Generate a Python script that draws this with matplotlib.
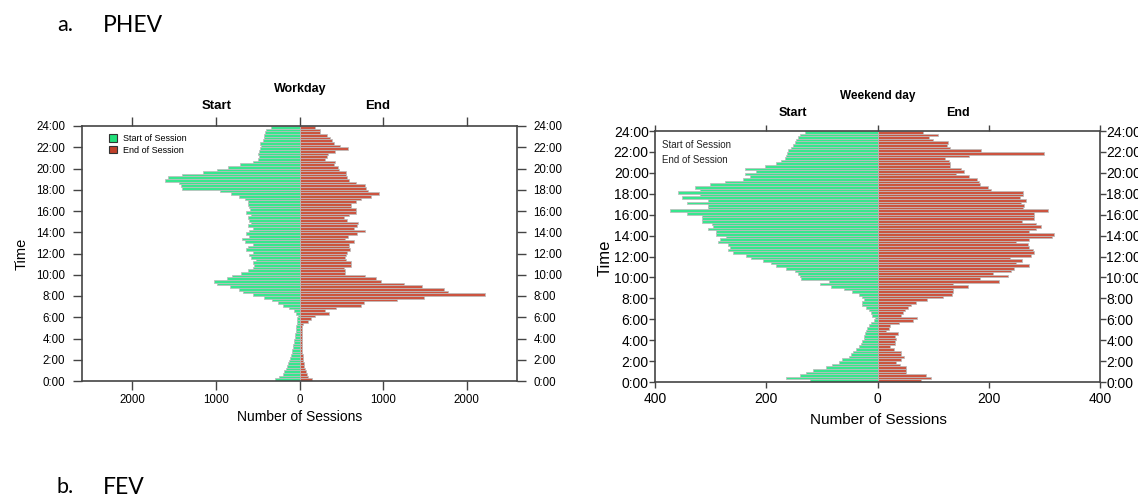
import numpy as np
import matplotlib
matplotlib.use("Agg")
import matplotlib.pyplot as plt
from matplotlib.patches import Patch

# 15-minute bins, 0:00 -> 23:45 (bottom to top)
workday_start = [290, 240, 200, 180, 165, 150, 140, 130, 115, 105, 95, 90,
                 80, 75, 70, 60, 55, 50, 45, 45, 40, 35, 30, 25,
                 20, 40, 70, 120, 200, 260, 330, 420, 560, 680, 720, 830,
                 990, 1020, 870, 810, 700, 620, 560, 540, 560, 520, 580, 600,
                 560, 640, 620, 560, 650, 690, 600, 640, 600, 560, 620, 580,
                 600, 620, 580, 640, 590, 600, 610, 620, 650, 720, 820, 950,
                 1400, 1420, 1440, 1610, 1570, 1400, 1150, 990, 850, 710, 550, 500,
                 490, 500, 480, 470, 460, 470, 440, 430, 430, 415, 395, 340]
workday_end = [150, 105, 90, 75, 65, 58, 50, 45, 40, 38, 35, 32,
               30, 28, 26, 30, 28, 25, 30, 26, 25, 40, 104, 143,
               183, 350, 300, 440, 730, 770, 1170, 1490, 2220, 1770, 1730, 1470,
               1250, 980, 910, 780, 540, 540, 530, 610, 610, 550, 540, 560,
               570, 600, 590, 590, 650, 540, 580, 690, 780, 650, 690, 700,
               570, 530, 590, 670, 677, 620, 610, 670, 730, 860, 948, 820,
               790, 780, 677, 590, 570, 550, 550, 470, 462, 418, 422, 310,
               330, 343, 430, 578, 490, 410, 390, 360, 330, 250, 240, 183]
weekend_start = [122, 164, 140, 128, 116, 93, 82, 69, 63, 51, 48, 44,
                 39, 33, 30, 27, 24, 24, 22, 21, 18, 15, 12, 6,
                 4, 9, 12, 15, 21, 27, 28, 24, 28, 33, 45, 60,
                 84, 104, 87, 137, 140, 143, 149, 164, 182, 191, 206, 227,
                 236, 260, 269, 266, 269, 287, 284, 272, 290, 290, 304, 296,
                 298, 316, 316, 316, 343, 373, 304, 304, 343, 304, 352, 319,
                 358, 319, 328, 301, 275, 242, 230, 239, 218, 239, 203, 183,
                 173, 167, 165, 163, 161, 155, 152, 149, 146, 143, 140, 131]
weekend_end = [79, 97, 88, 52, 52, 51, 40, 34, 43, 47, 43, 43,
               29, 22, 31, 31, 33, 31, 37, 16, 21, 22, 39, 64,
               71, 43, 46, 49, 55, 61, 70, 89, 118, 134, 136, 136,
               162, 136, 219, 184, 234, 207, 240, 246, 272, 249, 260, 238,
               276, 282, 279, 273, 270, 249, 272, 313, 318, 273, 285, 294,
               285, 260, 281, 281, 281, 306, 262, 264, 258, 267, 256, 262,
               261, 204, 198, 184, 183, 179, 164, 141, 156, 150, 131, 131,
               128, 121, 164, 300, 186, 131, 125, 127, 99, 93, 109, 82]

hours = np.arange(96) * 0.25
hour_ticks = np.arange(0, 25, 2)
hour_labels = [f"{h}:00" for h in hour_ticks]

W, H = 1138, 497
green = "#38e68e"
red = "#cc5440"
edge = "#bdbdbd"
axis_col = "#444444"
fig = plt.figure(figsize=(W / 100, H / 100), dpi=100)
plt.rcParams['font.family'] = ['Liberation Sans', 'DejaVu Sans']


def fx(x):
    return x / W


def fy(y):
    return 1 - y / H


def panel(rect, start, end, lim, xticks, fs, tlen, ypad):
    ax = fig.add_axes(rect)
    ax.barh(hours, -np.array(start), height=0.25, align='edge',
            color=green, edgecolor=edge, linewidth=0.55)
    ax.barh(hours, end, height=0.25, align='edge',
            color=red, edgecolor=edge, linewidth=0.55)
    ax.set_xlim(-lim, lim)
    ax.set_ylim(0, 24)
    ax.set_yticks(hour_ticks)
    ax.set_yticklabels(hour_labels)
    ax.set_xticks(xticks)
    ax.set_xticklabels([str(abs(v)) for v in xticks])
    ax.tick_params(axis='both', direction='out', length=tlen, width=1,
                   color=axis_col, labelsize=fs,
                   top=True, right=True, labelright=True)
    ax.tick_params(axis='y', pad=ypad)
    ax.tick_params(axis='x', pad=3)
    for s in ax.spines.values():
        s.set_color(axis_col)
        s.set_linewidth(1.2)
    return ax


ax1 = panel([fx(82), fy(381), fx(517) - fx(82), fy(126) - fy(381)],
            workday_start, workday_end, 2600, [-2000, -1000, 0, 1000, 2000], 8.3, 6.5, 5.5)
ax2 = panel([fx(655), fy(382), fx(1100) - fx(655), fy(131) - fy(382)],
            weekend_start, weekend_end, 400, [-400, -200, 0, 200, 400], 10, 4, 0.5)

ax1.legend(handles=[Patch(facecolor='#22e07a', edgecolor='#333333', linewidth=0.8),
                    Patch(facecolor='#c0402a', edgecolor='#333333', linewidth=0.8)],
           labels=["Start of Session", "End of Session"],
           loc='upper left', bbox_to_anchor=(0.05, 0.99), frameon=False,
           fontsize=6.5, handlelength=0.9, handleheight=0.9,
           handletextpad=0.6, labelspacing=0.3, borderaxespad=0.2)
ax2.text(0.015, 0.965, "Start of Session", transform=ax2.transAxes,
         fontsize=7, va='top', color='#222222')
ax2.text(0.015, 0.905, "End of Session", transform=ax2.transAxes,
         fontsize=7, va='top', color='#222222')

# titles and axis labels
fig.text(fx(300), fy(89), "Workday", ha='center', va='center', fontsize=9, fontweight='bold')
fig.text(fx(217), fy(106), "Start", ha='center', va='center', fontsize=9.5, fontweight='bold')
fig.text(fx(378), fy(106), "End", ha='center', va='center', fontsize=9.5, fontweight='bold')
fig.text(fx(300), fy(417), "Number of Sessions", ha='center', va='center', fontsize=10)
fig.text(fx(22), fy(254), "Time", ha='center', va='center', fontsize=10.5, rotation=90)

fig.text(fx(878), fy(96), "Weekend day", ha='center', va='center', fontsize=8.5, fontweight='bold')
fig.text(fx(793), fy(113), "Start", ha='center', va='center', fontsize=9, fontweight='bold')
fig.text(fx(958), fy(113), "End", ha='center', va='center', fontsize=9, fontweight='bold')
fig.text(fx(878), fy(420), "Number of Sessions", ha='center', va='center', fontsize=11)
fig.text(fx(605), fy(258), "Time", ha='center', va='center', fontsize=12, rotation=90)

head_font = ['Lato', 'DejaVu Sans']
fig.text(fx(57), fy(25), "a.", ha='left', va='center', fontsize=15.5, family=head_font)
fig.text(fx(103), fy(25), "PHEV", ha='left', va='center', fontsize=16.5, family=head_font)
fig.text(fx(57), fy(487), "b.", ha='left', va='center', fontsize=15.5, family=head_font)
fig.text(fx(103), fy(487), "FEV", ha='left', va='center', fontsize=16.5, family=head_font)

fig.savefig("out.png", dpi=100)
